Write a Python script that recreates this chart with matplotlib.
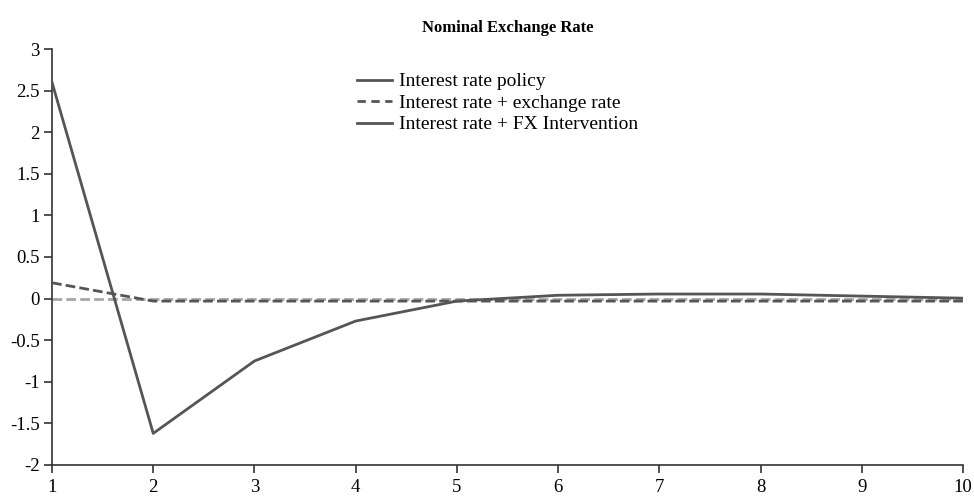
import matplotlib
matplotlib.use("Agg")
import matplotlib.pyplot as plt
from matplotlib.lines import Line2D

periods = [1, 2, 3, 4, 5, 6, 7, 8, 9, 10]
interest_rate_policy = [2.6, -1.62, -0.75, -0.27, -0.03, 0.04, 0.055, 0.055, 0.03, 0.005]
interest_plus_exchange = [0.19, -0.03, -0.03, -0.03, -0.03, -0.03, -0.03, -0.03, -0.03, -0.03]
interest_plus_fx = [0, 0, 0, 0, 0, 0, 0, 0, 0, 0]
labels = ["Interest rate policy", "Interest rate + exchange rate", "Interest rate + FX Intervention"]
yticks = [-2, -1.5, -1, -0.5, 0, 0.5, 1, 1.5, 2, 2.5, 3]
ytick_labels = ["-2", "-1.5", "-1", "-0.5", "0", "0.5", "1", "1.5", "2", "2.5", "3"]

plt.rcParams['font.family'] = ['Liberation Serif', 'DejaVu Serif']

fig = plt.figure(figsize=(9.74, 4.97), dpi=100)
ax = fig.add_axes([0.0534, 0.0644, 0.9353, 0.837])

dark = "#555555"
light = "#a6a6a6"
ax.plot(periods, interest_plus_fx, color=light, lw=2, ls=(0, (3.5, 1.5)), zorder=2)
ax.plot(periods, interest_plus_exchange, color=dark, lw=2, ls=(0, (3.5, 1.5)), zorder=3)
ax.plot(periods, interest_rate_policy, color=dark, lw=2, zorder=4)

ax.set_xlim(1, 10)
ax.set_ylim(-2, 3)
ax.set_xticks(periods)
ax.set_yticks(yticks)
ax.set_yticklabels(ytick_labels)
for s in ["top", "right"]:
    ax.spines[s].set_visible(False)
for s in ["left", "bottom"]:
    ax.spines[s].set_color("#333333")
    ax.spines[s].set_linewidth(1.2)
ax.tick_params(direction="out", length=6, width=1.2, color="#333333", labelsize=13.5, pad=3)
ax.tick_params(axis="x", pad=4)

ax.set_title("Nominal Exchange Rate", fontsize=12, fontweight="bold", pad=12)

handles = [
    Line2D([], [], color=dark, lw=2),
    Line2D([], [], color=dark, lw=2, ls=(0, (3, 2))),
    Line2D([], [], color=dark, lw=2),
]
ax.legend(handles, labels, loc="upper left", bbox_to_anchor=(0.316, 0.985), frameon=False,
          fontsize=14, handlelength=1.8, handletextpad=0.35, labelspacing=0.2)

fig.savefig("out.png", dpi=100)
